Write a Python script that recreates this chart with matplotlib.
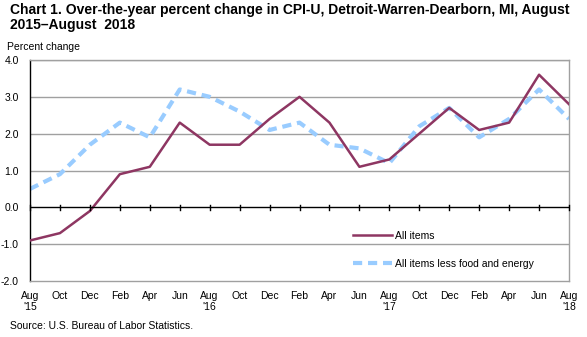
import matplotlib
matplotlib.use("Agg")
import matplotlib.pyplot as plt

plt.rcParams['font.family'] = ['Liberation Sans', 'DejaVu Sans']

months = ["Aug", "Oct", "Dec", "Feb", "Apr", "Jun", "Aug", "Oct", "Dec", "Feb",
          "Apr", "Jun", "Aug", "Oct", "Dec", "Feb", "Apr", "Jun", "Aug"]
year_marks = {0: "'15", 6: "'16", 12: "'17", 18: "'18"}
all_items = [-0.9, -0.7, -0.1, 0.9, 1.1, 2.3, 1.7, 1.7, 2.4, 3.0,
             2.3, 1.1, 1.3, 2.0, 2.7, 2.1, 2.3, 3.6, 2.8]
core_items = [0.5, 0.9, 1.7, 2.3, 1.9, 3.2, 3.0, 2.6, 2.1, 2.3,
              1.7, 1.6, 1.2, 2.2, 2.7, 1.9, 2.4, 3.2, 2.4]
y_ticks = [-2.0, -1.0, 0.0, 1.0, 2.0, 3.0, 4.0]

x = list(range(len(months)))
tick_labels = [m + ("\n" + year_marks[i] if i in year_marks else "") for i, m in enumerate(months)]

fig = plt.figure(figsize=(5.87, 3.37), dpi=100)
ax = fig.add_axes([30 / 587, 1 - 281 / 337, 539 / 587, 221 / 337])

grid_c = "#A0A0A0"
for v in y_ticks:
    if v not in (0.0, -2.0):
        ax.axhline(v, color=grid_c, lw=1.0, zorder=1)

ax.plot(x, all_items, color="#8E3662", lw=1.8, label="All items", zorder=3)
ax.plot(x, core_items, color="#99CCFF", lw=3.0, ls=(0, (2.2, 1.4)),
        label="All items less food and energy", zorder=2)

ax.set_xlim(0, len(x) - 1)
ax.set_ylim(-2.0, 4.0)
ax.set_yticks(y_ticks)
ax.set_yticklabels([f"{v:.1f}" for v in y_ticks], fontsize=7.5)
ax.tick_params(axis="y", length=0, pad=8)

# category labels under the plot; ticks drawn on the zero line instead
ax.set_xticks(x)
ax.set_xticklabels(tick_labels, fontsize=7.5, linespacing=1.1)
ax.tick_params(axis="x", length=0, pad=7)
for xi in x:
    ax.plot([xi, xi], [-0.07, 0.07], color="black", lw=1.0, zorder=4, clip_on=False)
ax.axhline(0, color="black", lw=1.0, zorder=4)

for side in ("top", "right", "bottom"):
    ax.spines[side].set_color(grid_c)
    ax.spines[side].set_linewidth(1.0)
ax.spines["left"].set_color("black")
ax.spines["left"].set_linewidth(1.0)

leg = ax.legend(loc="lower left", bbox_to_anchor=(0.582, 0.012), frameon=False,
                fontsize=7.5, handlelength=3.7, handletextpad=0.3, labelspacing=1.75)

fig.text(10 / 587, 1 - 3 / 337,
         "Chart 1. Over-the-year percent change in CPI-U, Detroit-Warren-Dearborn, MI, August\n2015\u2013August  2018",
         fontsize=10, fontweight="bold", va="top", ha="left", linespacing=1.05)
fig.text(7 / 587, 1 - 42 / 337, "Percent change", fontsize=7.5, va="top", ha="left")
fig.text(10 / 587, 1 - 321 / 337, "Source: U.S. Bureau of Labor Statistics.",
         fontsize=7.5, va="top", ha="left")

fig.savefig("out.png", dpi=100)
